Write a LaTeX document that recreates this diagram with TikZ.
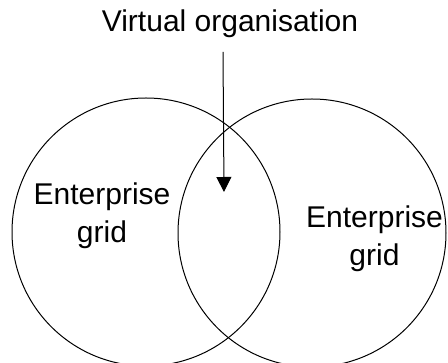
\documentclass[tikz,border=0pt]{standalone}
\usepackage{fontspec}
\setmainfont{Liberation Sans}
\usetikzlibrary{arrows.meta}
\begin{document}
\begin{tikzpicture}[x=1pt,y=-1pt,
  setcircle/.style={circle, draw, line width=1pt, minimum size=268pt, inner sep=0pt},
  label/.style={inner sep=0pt, align=center, font=\fontsize{30}{37.7}\selectfont},
  pointer/.style={line width=1pt, -{Triangle[width=15pt,length=15pt]}}]
\useasboundingbox (0,0) rectangle (448,363);
\node[setcircle] (L) at (146,232) {};
\node[setcircle] (R) at (312,233) {};
\node[label, anchor=base] (title) at (230,32) {Virtual organisation};
\node[label, anchor=north] (lt) at (102,182.5) {Enterprise\\grid};
\node[label, anchor=north] (rt) at (374.5,205.5) {Enterprise\\grid};
\coordinate (a0) at (223,52);
\coordinate (a1) at (224,192);
\draw[pointer] (a0) -- (a1);
\end{tikzpicture}
\end{document}
